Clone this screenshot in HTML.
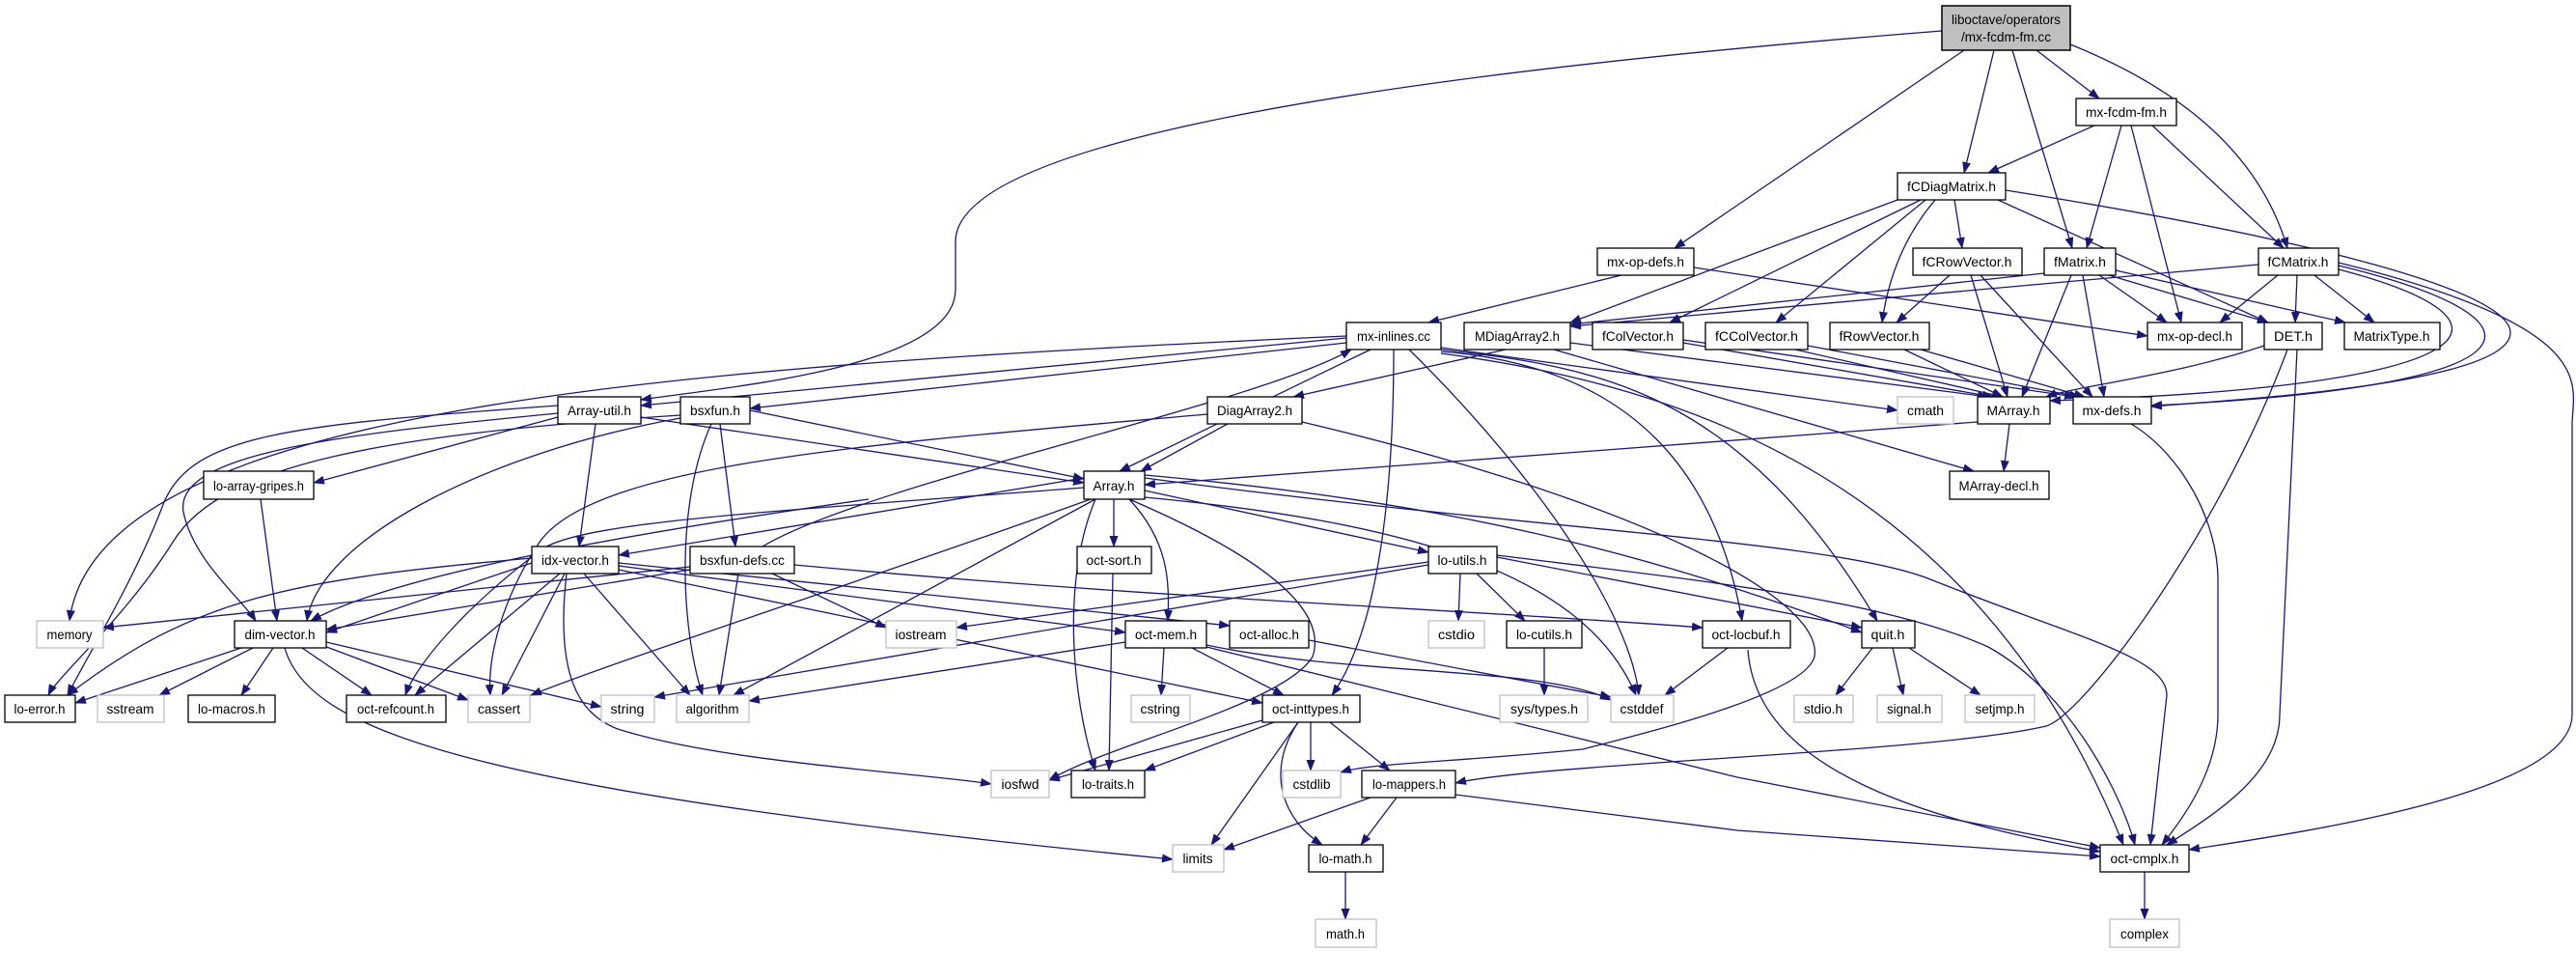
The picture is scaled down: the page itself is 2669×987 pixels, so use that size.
<!DOCTYPE html>
<html><head><meta charset="utf-8"><style>
html,body{margin:0;padding:0;background:#fff;}
svg{display:block}
text{font-family:"Liberation Sans",sans-serif;font-size:14px;fill:#000}
</style></head><body>
<svg width="2669" height="987" viewBox="0 0 2669 987" xmlns="http://www.w3.org/2000/svg">
<defs>
<marker id="a" markerWidth="12" markerHeight="9" refX="11" refY="4.5" orient="auto" markerUnits="userSpaceOnUse">
<path d="M0,0 L12,4.5 L0,9 z" fill="#191970"/>
</marker>
</defs>
<g fill="none" stroke="#191970" stroke-width="1.3" marker-end="url(#a)">
<path d="M2035,52 L1735,257"/>
<path d="M2066,52 L2035,179"/>
<path d="M2085,52 L2147,257"/>
<path d="M2110,52 L2175,102"/>
<path d="M2145,46 Q2330,120 2370,257"/>
<path d="M2012,32 C1400,80 990,150 990,250 L990,300 C990,380 760,400 664,414"/>
<path d="M2170,130 L2060,179"/>
<path d="M2198,130 L2162,257"/>
<path d="M2208,130 L2260,334"/>
<path d="M2230,130 L2366,257"/>
<path d="M2025,207 L2033,257"/>
<path d="M2005,207 Q1960,260 1950,334"/>
<path d="M1995,207 L1840,334"/>
<path d="M1990,207 L1730,334"/>
<path d="M1966,207 L1627,334"/>
<path d="M2070,207 L2350,334"/>
<path d="M2078,197 C2350,240 2620,300 2600,350 C2580,400 2300,415 2229,421"/>
<path d="M2020,285 L1965,334"/>
<path d="M2042,285 L2080,411"/>
<path d="M2052,285 L2168,411"/>
<path d="M2118,283 L1627,336"/>
<path d="M2175,285 L2245,334"/>
<path d="M2185,285 L2350,334"/>
<path d="M2192,280 L2430,334"/>
<path d="M2146,285 L2095,411"/>
<path d="M2158,285 L2180,411"/>
<path d="M2340,274 L1627,338"/>
<path d="M2360,285 L2300,334"/>
<path d="M2380,285 L2378,334"/>
<path d="M2398,285 L2460,334"/>
<path d="M2423,279 C2620,330 2600,400 2124,415"/>
<path d="M2423,275 C2650,330 2650,400 2229,420"/>
<path d="M2423,272 C2700,340 2665,400 2665,440 L2665,740 C2665,820 2400,860 2268,880"/>
<path d="M1680,285 L1480,334"/>
<path d="M1755,277 L2225,348"/>
<path d="M1395,350 L664,420"/>
<path d="M1395,355 L777,423"/>
<path d="M1395,348 C700,380 100,420 72,643"/>
<path d="M1420,362 L1160,488"/>
<path d="M1444,362 C1444,500 1430,650 1380,720"/>
<path d="M1460,362 C1600,500 1690,640 1698,720"/>
<path d="M1493,360 L1966,425"/>
<path d="M1493,362 C1650,380 1800,400 1945,643"/>
<path d="M1493,364 C1700,380 1780,500 1805,643"/>
<path d="M1493,366 C1750,400 2050,500 2200,875"/>
<path d="M1560,362 L1340,411"/>
<path d="M1627,355 L2060,411"/>
<path d="M1610,362 L2045,488"/>
<path d="M1744,355 L2065,411"/>
<path d="M1744,352 L2150,411"/>
<path d="M1860,362 L2075,411"/>
<path d="M1873,358 L2155,411"/>
<path d="M1973,362 L2075,411"/>
<path d="M1990,362 L2160,411"/>
<path d="M2346,358 C2250,390 2150,400 2120,411"/>
<path d="M2370,362 C2300,550 2160,740 2120,752 C2000,780 1600,790 1508,811"/>
<path d="M1349,437 C1700,520 1890,620 1880,680 C1870,720 1700,760 1640,776 C1500,790 1420,790 1389,800"/>
<path d="M2380,362 L2362,740 C2362,800 2300,840 2245,875"/>
<path d="M2049,437 L1186,502"/>
<path d="M2082,439 L2076,488"/>
<path d="M2208,439 C2260,470 2298,540 2298,600 L2298,740 C2298,800 2260,850 2240,875"/>
<path d="M1186,495 C1600,550 1900,560 2000,600 C2150,660 2245,680 2245,720 L2228,875"/>
<path d="M1551,575 C1750,600 1950,620 2060,670 C2150,720 2200,830 2212,875"/>
<path d="M1250,670 L1800,805 L2176,878"/>
<path d="M1508,823 L1800,860 L2176,887"/>
<path d="M1811,673 C1820,800 2000,850 2176,882"/>
<path d="M1790,671 L1725,720"/>
<path d="M1186,492 C1500,520 1700,570 1929,655"/>
<path d="M1551,577 L1929,650"/>
<path d="M1940,671 L1902,720"/>
<path d="M1961,671 L1972,720"/>
<path d="M1978,671 L2052,720"/>
<path d="M664,432 L1123,500"/>
<path d="M578,432 L325,500"/>
<path d="M617,439 L600,566"/>
<path d="M578,428 C350,450 180,470 190,530 C200,580 250,620 265,643"/>
<path d="M578,420 C300,440 200,450 170,520 C140,600 90,680 70,720"/>
<path d="M777,425 L1123,496"/>
<path d="M746,439 L762,566"/>
<path d="M737,439 C700,520 705,650 728,720"/>
<path d="M705,433 C500,470 330,560 318,643"/>
<path d="M705,430 C400,450 230,480 180,560 C130,640 60,700 50,720"/>
<path d="M1272,439 L1182,488"/>
<path d="M1251,429 C900,460 620,480 560,560 C520,620 505,680 508,720"/>
<path d="M270,517 L287,643"/>
<path d="M1123,495 L641,575"/>
<path d="M900,517 C600,560 400,600 322,643"/>
<path d="M1154,517 L1154,566"/>
<path d="M1186,508 L1480,572"/>
<path d="M1170,517 C1210,560 1212,600 1210,643"/>
<path d="M1123,505 C800,530 600,540 560,570 C480,630 430,690 420,720"/>
<path d="M1130,517 C900,600 650,680 550,720"/>
<path d="M1135,517 L760,720"/>
<path d="M1135,517 C1100,600 1110,720 1135,798"/>
<path d="M1170,517 C1270,560 1380,620 1360,680 C1330,730 1150,770 1087,808"/>
<path d="M1186,515 C1450,540 1640,590 1695,720"/>
<path d="M551,583 L338,655"/>
<path d="M551,578 C300,600 200,620 70,720"/>
<path d="M580,594 L430,720"/>
<path d="M585,594 L520,720"/>
<path d="M605,594 L715,720"/>
<path d="M587,594 C575,700 600,740 640,755 C750,790 950,800 1027,812"/>
<path d="M641,586 L1166,655"/>
<path d="M641,583 L1274,648"/>
<path d="M641,590 L1308,728"/>
<path d="M715,587 L107,650"/>
<path d="M715,590 L338,652"/>
<path d="M765,594 L745,720"/>
<path d="M800,594 L918,650"/>
<path d="M823,585 C1200,620 1500,630 1764,650"/>
<path d="M790,566 C900,500 1300,420 1400,362"/>
<path d="M250,671 L78,728"/>
<path d="M262,671 L165,720"/>
<path d="M283,671 L250,720"/>
<path d="M313,671 L385,720"/>
<path d="M333,668 L485,725"/>
<path d="M338,665 L623,732"/>
<path d="M295,671 C320,760 500,820 1215,890"/>
<path d="M1480,582 L991,650"/>
<path d="M1513,594 L1511,643"/>
<path d="M1530,594 L1580,643"/>
<path d="M1480,585 L678,722"/>
<path d="M1600,671 L1600,720"/>
<path d="M1153,594 L1149,798"/>
<path d="M1206,671 L1203,720"/>
<path d="M1235,671 L1330,720"/>
<path d="M1166,665 L776,726"/>
<path d="M1250,668 C1400,700 1600,690 1669,725"/>
<path d="M1356,663 L1669,722"/>
<path d="M1308,746 L1087,808"/>
<path d="M1320,748 L1186,798"/>
<path d="M1358,748 L1358,798"/>
<path d="M1378,748 L1440,798"/>
<path d="M1345,748 L1255,875"/>
<path d="M1345,748 C1310,800 1330,850 1370,875"/>
<path d="M1420,826 L1268,880"/>
<path d="M1447,826 L1410,875"/>
<path d="M1394,903 L1394,952"/>
<path d="M2222,903 L2222,952"/>
</g>
<g stroke-width="1.5">
<rect x="2012" y="6" width="133" height="46" fill="#bfbfbf" stroke="#000"/>
<text x="2078.5" y="25" text-anchor="middle" textLength="113" lengthAdjust="spacingAndGlyphs">liboctave/operators</text>
<text x="2078.5" y="43" text-anchor="middle" textLength="93" lengthAdjust="spacingAndGlyphs">/mx-fcdm-fm.cc</text>
</g>
<g fill="#fff" stroke="#000" stroke-width="1.3">
<rect x="2151" y="102" width="104" height="28"/>
<rect x="1966" y="179" width="112" height="28"/>
<rect x="1655" y="257" width="100" height="28"/>
<rect x="1982" y="257" width="113" height="28"/>
<rect x="2118" y="257" width="74" height="28"/>
<rect x="2340" y="257" width="83" height="28"/>
<rect x="1395" y="334" width="98" height="28"/>
<rect x="1517" y="334" width="110" height="28"/>
<rect x="1650" y="334" width="94" height="28"/>
<rect x="1767" y="334" width="106" height="28"/>
<rect x="1896" y="334" width="103" height="28"/>
<rect x="2225" y="334" width="98" height="28"/>
<rect x="2346" y="334" width="60" height="28"/>
<rect x="2429" y="334" width="99" height="28"/>
<rect x="578" y="411" width="86" height="28"/>
<rect x="705" y="411" width="72" height="28"/>
<rect x="1251" y="411" width="98" height="28"/>
<rect x="2049" y="411" width="75" height="28"/>
<rect x="2148" y="411" width="81" height="28"/>
<rect x="211" y="488" width="114" height="29"/>
<rect x="1123" y="488" width="63" height="29"/>
<rect x="2020" y="488" width="103" height="29"/>
<rect x="551" y="566" width="90" height="28"/>
<rect x="715" y="566" width="108" height="28"/>
<rect x="1116" y="566" width="77" height="28"/>
<rect x="1480" y="566" width="71" height="28"/>
<rect x="243" y="643" width="95" height="28"/>
<rect x="1166" y="643" width="84" height="28"/>
<rect x="1274" y="643" width="82" height="28"/>
<rect x="1561" y="643" width="78" height="28"/>
<rect x="1764" y="643" width="91" height="28"/>
<rect x="1929" y="643" width="55" height="28"/>
<rect x="5" y="720" width="73" height="28"/>
<rect x="195" y="720" width="90" height="28"/>
<rect x="359" y="720" width="103" height="28"/>
<rect x="1308" y="720" width="101" height="28"/>
<rect x="1110" y="798" width="76" height="28"/>
<rect x="1411" y="798" width="97" height="28"/>
<rect x="1356" y="875" width="77" height="28"/>
<rect x="2176" y="875" width="92" height="28"/>
</g>
<g fill="#fff" stroke="#bfbfbf" stroke-width="1.3">
<rect x="1966" y="411" width="58" height="28"/>
<rect x="38" y="643" width="69" height="28"/>
<rect x="918" y="643" width="73" height="28"/>
<rect x="1480" y="643" width="58" height="28"/>
<rect x="101" y="720" width="69" height="28"/>
<rect x="485" y="720" width="64" height="28"/>
<rect x="623" y="720" width="55" height="28"/>
<rect x="701" y="720" width="75" height="28"/>
<rect x="1172" y="720" width="61" height="28"/>
<rect x="1554" y="720" width="91" height="28"/>
<rect x="1669" y="720" width="65" height="28"/>
<rect x="1859" y="720" width="61" height="28"/>
<rect x="1945" y="720" width="67" height="28"/>
<rect x="2036" y="720" width="72" height="28"/>
<rect x="1027" y="798" width="60" height="28"/>
<rect x="1329" y="798" width="60" height="28"/>
<rect x="1215" y="875" width="53" height="28"/>
<rect x="1363" y="952" width="63" height="29"/>
<rect x="2186" y="952" width="72" height="29"/>
</g>
<g text-anchor="middle" lengthAdjust="spacingAndGlyphs">
<text x="2203" y="121" textLength="84" lengthAdjust="spacingAndGlyphs">mx-fcdm-fm.h</text>
<text x="2022" y="198" textLength="92" lengthAdjust="spacingAndGlyphs">fCDiagMatrix.h</text>
<text x="1705" y="276" textLength="80" lengthAdjust="spacingAndGlyphs">mx-op-defs.h</text>
<text x="2038" y="276" textLength="93" lengthAdjust="spacingAndGlyphs">fCRowVector.h</text>
<text x="2155" y="276" textLength="54" lengthAdjust="spacingAndGlyphs">fMatrix.h</text>
<text x="2381" y="276" textLength="63" lengthAdjust="spacingAndGlyphs">fCMatrix.h</text>
<text x="1444" y="353" textLength="76" lengthAdjust="spacingAndGlyphs">mx-inlines.cc</text>
<text x="1572" y="353" textLength="88" lengthAdjust="spacingAndGlyphs">MDiagArray2.h</text>
<text x="1697" y="353" textLength="74" lengthAdjust="spacingAndGlyphs">fColVector.h</text>
<text x="1820" y="353" textLength="86" lengthAdjust="spacingAndGlyphs">fCColVector.h</text>
<text x="1947" y="353" textLength="83" lengthAdjust="spacingAndGlyphs">fRowVector.h</text>
<text x="2274" y="353" textLength="78" lengthAdjust="spacingAndGlyphs">mx-op-decl.h</text>
<text x="2376" y="353" textLength="40" lengthAdjust="spacingAndGlyphs">DET.h</text>
<text x="2478" y="353" textLength="79" lengthAdjust="spacingAndGlyphs">MatrixType.h</text>
<text x="621" y="430" textLength="66" lengthAdjust="spacingAndGlyphs">Array-util.h</text>
<text x="741" y="430" textLength="52" lengthAdjust="spacingAndGlyphs">bsxfun.h</text>
<text x="1300" y="430" textLength="78" lengthAdjust="spacingAndGlyphs">DiagArray2.h</text>
<text x="1995" y="430" textLength="38" lengthAdjust="spacingAndGlyphs">cmath</text>
<text x="2086" y="430" textLength="55" lengthAdjust="spacingAndGlyphs">MArray.h</text>
<text x="2188" y="430" textLength="61" lengthAdjust="spacingAndGlyphs">mx-defs.h</text>
<text x="268" y="508" textLength="94" lengthAdjust="spacingAndGlyphs">lo-array-gripes.h</text>
<text x="1154" y="508" textLength="43" lengthAdjust="spacingAndGlyphs">Array.h</text>
<text x="2071" y="508" textLength="83" lengthAdjust="spacingAndGlyphs">MArray-decl.h</text>
<text x="596" y="585" textLength="70" lengthAdjust="spacingAndGlyphs">idx-vector.h</text>
<text x="769" y="585" textLength="88" lengthAdjust="spacingAndGlyphs">bsxfun-defs.cc</text>
<text x="1154" y="585" textLength="57" lengthAdjust="spacingAndGlyphs">oct-sort.h</text>
<text x="1515" y="585" textLength="51" lengthAdjust="spacingAndGlyphs">lo-utils.h</text>
<text x="72" y="662" textLength="47" lengthAdjust="spacingAndGlyphs">memory</text>
<text x="290" y="662" textLength="73" lengthAdjust="spacingAndGlyphs">dim-vector.h</text>
<text x="954" y="662" textLength="53" lengthAdjust="spacingAndGlyphs">iostream</text>
<text x="1208" y="662" textLength="64" lengthAdjust="spacingAndGlyphs">oct-mem.h</text>
<text x="1315" y="662" textLength="62" lengthAdjust="spacingAndGlyphs">oct-alloc.h</text>
<text x="1509" y="662" textLength="38" lengthAdjust="spacingAndGlyphs">cstdio</text>
<text x="1600" y="662" textLength="58" lengthAdjust="spacingAndGlyphs">lo-cutils.h</text>
<text x="1809" y="662" textLength="71" lengthAdjust="spacingAndGlyphs">oct-locbuf.h</text>
<text x="1956" y="662" textLength="35" lengthAdjust="spacingAndGlyphs">quit.h</text>
<text x="41" y="739" textLength="53" lengthAdjust="spacingAndGlyphs">lo-error.h</text>
<text x="135" y="739" textLength="49" lengthAdjust="spacingAndGlyphs">sstream</text>
<text x="240" y="739" textLength="70" lengthAdjust="spacingAndGlyphs">lo-macros.h</text>
<text x="410" y="739" textLength="80" lengthAdjust="spacingAndGlyphs">oct-refcount.h</text>
<text x="517" y="739" textLength="44" lengthAdjust="spacingAndGlyphs">cassert</text>
<text x="650" y="739" textLength="35" lengthAdjust="spacingAndGlyphs">string</text>
<text x="738" y="739" textLength="55" lengthAdjust="spacingAndGlyphs">algorithm</text>
<text x="1202" y="739" textLength="41" lengthAdjust="spacingAndGlyphs">cstring</text>
<text x="1358" y="739" textLength="80" lengthAdjust="spacingAndGlyphs">oct-inttypes.h</text>
<text x="1600" y="739" textLength="70" lengthAdjust="spacingAndGlyphs">sys/types.h</text>
<text x="1701" y="739" textLength="45" lengthAdjust="spacingAndGlyphs">cstddef</text>
<text x="1889" y="739" textLength="40" lengthAdjust="spacingAndGlyphs">stdio.h</text>
<text x="1978" y="739" textLength="46" lengthAdjust="spacingAndGlyphs">signal.h</text>
<text x="2072" y="739" textLength="51" lengthAdjust="spacingAndGlyphs">setjmp.h</text>
<text x="1057" y="817" textLength="39" lengthAdjust="spacingAndGlyphs">iosfwd</text>
<text x="1148" y="817" textLength="54" lengthAdjust="spacingAndGlyphs">lo-traits.h</text>
<text x="1359" y="817" textLength="39" lengthAdjust="spacingAndGlyphs">cstdlib</text>
<text x="1460" y="817" textLength="76" lengthAdjust="spacingAndGlyphs">lo-mappers.h</text>
<text x="1241" y="894" textLength="31" lengthAdjust="spacingAndGlyphs">limits</text>
<text x="1394" y="894" textLength="55" lengthAdjust="spacingAndGlyphs">lo-math.h</text>
<text x="2222" y="894" textLength="71" lengthAdjust="spacingAndGlyphs">oct-cmplx.h</text>
<text x="1394" y="972" textLength="40" lengthAdjust="spacingAndGlyphs">math.h</text>
<text x="2222" y="972" textLength="50" lengthAdjust="spacingAndGlyphs">complex</text>
</g>
</svg>
</body></html>
